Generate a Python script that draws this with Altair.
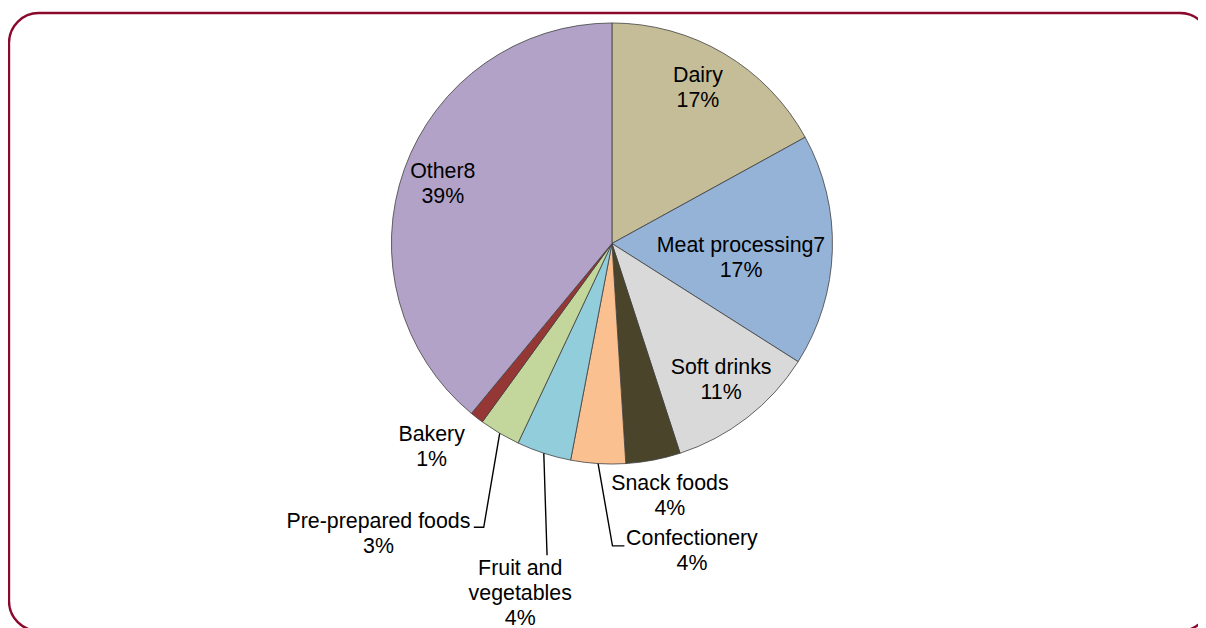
import math
import altair as alt
import pandas as pd

# ---- data ----
categories = ["Dairy", "Meat processing7", "Soft drinks", "Snack foods", "Confectionery",
              "Fruit and vegetables", "Pre-prepared foods", "Bakery", "Other8"]
shares = [17, 17, 11, 4, 4, 4, 3, 1, 39]
label_text = ["Dairy\n17%", "Meat processing7\n17%", "Soft drinks\n11%", "Snack foods\n4%",
              "Confectionery\n4%", "Fruit and\nvegetables\n4%", "Pre-prepared foods\n3%",
              "Bakery\n1%", "Other8\n39%"]

# ---- styles / layout ----
colors = ["#C4BD97", "#95B3D7", "#D9D9D9", "#4A452A", "#FAC090",
          "#92CDDC", "#C3D69B", "#953735", "#B2A2C7"]
CX, CY, R = 608, 235, 222
LH = 25
label_r = [178, 131, 176, 258, 310, 370, 340, 270, 181]
label_nudge = [(-4, -3), (-1, 11), (2, -1), (10, 1), (100, 1), (22, 1), (-62, 0), (-16, -8), (0, 2)]
leader_offsets = {
    "Confectionery": [(-80, -6), (-68, -6)],
    "Fruit and vegetables": [(27, -39), (27, -39)],
    "Pre-prepared foods": [(106, -7), (96, -7)],
}

total = sum(shares)
rows, lab_rows, lead_rows = [], [], []
cum = 0
for i, (c, s) in enumerate(zip(categories, shares)):
    mid = (cum + s / 2) / total * 2 * math.pi
    cum += s
    rows.append({"category": c, "share": s, "idx": i})
    lx = CX + label_r[i] * math.sin(mid) + label_nudge[i][0]
    ly = CY - label_r[i] * math.cos(mid) + label_nudge[i][1]
    n_lines = label_text[i].count("\n") + 1
    lab_rows.append({"category": c, "text": label_text[i], "lx": lx,
                     "ty": ly - (n_lines - 1) * LH / 2})
    if c in leader_offsets:
        pts = [(CX + R * math.sin(mid), CY - R * math.cos(mid))]
        pts += [(lx + dx, ly + dy) for dx, dy in leader_offsets[c]]
        for k, (px, py) in enumerate(pts):
            lead_rows.append({"category": c, "k": k, "px": px, "py": py})

df = pd.DataFrame(rows)
labels_df = pd.DataFrame(lab_rows)
lead_df = pd.DataFrame(lead_rows)

frame = alt.Chart(pd.DataFrame({"a": [0]})).mark_rect(
    fill="white", stroke="#8A0A2E", strokeWidth=2.4, cornerRadius=30
).encode(x=alt.value(1), x2=alt.value(1210), y=alt.value(3), y2=alt.value(625))

pie = alt.Chart(df).mark_arc(radius=R, stroke="#3F3F3F", strokeWidth=0.8).encode(
    theta=alt.Theta("share:Q", stack=True),
    color=alt.Color("category:N", scale=alt.Scale(domain=categories, range=colors), legend=None),
    order=alt.Order("idx:Q"),
    x=alt.value(CX),
    y=alt.value(CY),
)

leaders = alt.Chart(lead_df).mark_line(color="black", strokeWidth=1.4).encode(
    x=alt.X("px:Q", scale=None, axis=None),
    y=alt.Y("py:Q", scale=None, axis=None),
    detail="category:N",
    order="k:Q",
)

labels = alt.Chart(labels_df).mark_text(
    font="Liberation Sans", fontSize=21.5, lineHeight=LH, lineBreak="\n",
    align="center", baseline="middle", color="black"
).encode(
    x=alt.X("lx:Q", scale=None, axis=None),
    y=alt.Y("ty:Q", scale=None, axis=None),
    text="text:N",
)

chart = alt.layer(frame, pie, leaders, labels).properties(
    width=1198, height=620, padding=0, autosize="none"
).configure_view(stroke=None)

chart.save("out.html", embed_options={"renderer": "svg", "actions": False})
